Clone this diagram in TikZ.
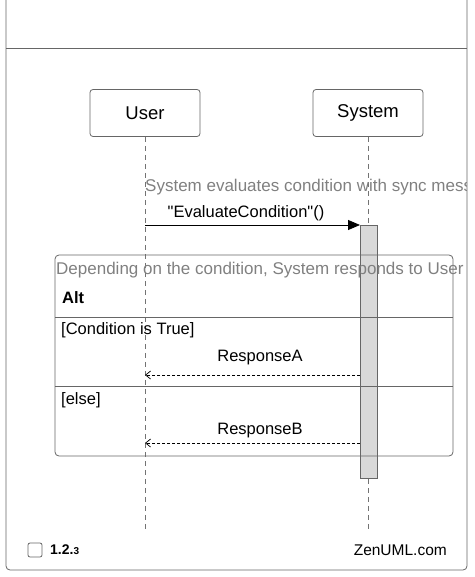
\documentclass[tikz,border=0pt]{standalone}
\usepackage{fontspec}
\setmainfont{Liberation Sans}
\newfontfamily\qf{Liberation Sans}
\usetikzlibrary{arrows.meta}
\begin{document}
\begin{tikzpicture}[x=1pt,y=-1pt,
  part/.style={draw=black!60,rounded corners=3pt,line width=0.8pt,minimum width=110pt,minimum height=47pt,font=\fontsize{18.5}{22}\selectfont},
  life/.style={dashed,draw=black!55,line width=0.7pt,dash pattern=on 5pt off 4pt},
  msg/.style={font=\fontsize{16.5}{20}\selectfont},
  note/.style={font=\fontsize{17}{20}\selectfont,text=black!50},
  activ/.style={draw=black!60, fill=black!15, line width=0.7pt, minimum width=17pt, minimum height=253pt, inner sep=0pt},
  ret/.style={dashed,dash pattern=on 3pt off 2pt,line width=0.7pt,-{Straight Barb[length=5pt,width=8pt]}},
  sep/.style={draw=black!60,line width=0.7pt}]
\useasboundingbox (0,0) rectangle (474,577);
\draw[draw=black!60,line width=0.8pt,rounded corners=4pt] (6,-4) rectangle (467,570);
\draw[sep] (6,48) -- (467,48);
\node[part] (user) at (145,113) {User};
\node[part] (sys) at (368,113) {System};
\coordinate (ue) at (145,530);
\coordinate (se) at (368,530);
\draw[life] (user.south) -- (ue);
\draw[life] (sys.south) -- (se);
\begin{scope}
\clip (6,0) rectangle (466,570);
\node[note,anchor=west,inner sep=0pt] (n1) at (145,187) {System evaluates condition with sync message};
\node[activ] (act) at (368.5,351.5) {};
\draw[draw=black!60,line width=0.8pt,rounded corners=4pt] (55,255) rectangle (453,456);
\node[note,anchor=west,inner sep=0pt] (n2) at (56,270) {Depending on the condition, System responds to User};
\end{scope}
\coordinate (a1) at (145,225);
\coordinate (a2) at (360,225);
\draw[line width=0.8pt,-{Triangle[length=12pt,width=10pt]}] (a1) -- (a2);
\node[msg] (m1) at (246,213) {{\qf"}EvaluateCondition{\qf"}()};
\node[font=\fontsize{16.5}{20}\selectfont\bfseries,anchor=west,inner sep=0pt] (alt) at (62,298) {Alt};
\draw[sep] (55,317) -- (453,317);
\node[msg,anchor=west,inner sep=0pt] (c1) at (61,330) {[Condition is True]};
\node[msg] (ra) at (260,358) {ResponseA};
\coordinate (r1) at (360,375);
\coordinate (r2) at (145,375);
\draw[ret] (r1) -- (r2);
\draw[sep] (55,386) -- (453,386);
\node[msg,anchor=west,inner sep=0pt] (c2) at (61,400) {[else]};
\node[msg] (rb) at (260,431) {ResponseB};
\coordinate (r3) at (360,443);
\coordinate (r4) at (145,443);
\draw[ret] (r3) -- (r4);
\draw[draw=black!60,line width=0.8pt,rounded corners=2pt] (28,543) rectangle (42,557);
\node[font=\fontsize{14}{16}\selectfont\bfseries,anchor=west,inner sep=0pt] (ver) at (50,550) {1.2.{\fontsize{10}{11}\selectfont 3}};
\node[font=\fontsize{15.5}{18}\selectfont,anchor=east,inner sep=0pt] (zen) at (447,550) {ZenUML.com};
\end{tikzpicture}
\end{document}
